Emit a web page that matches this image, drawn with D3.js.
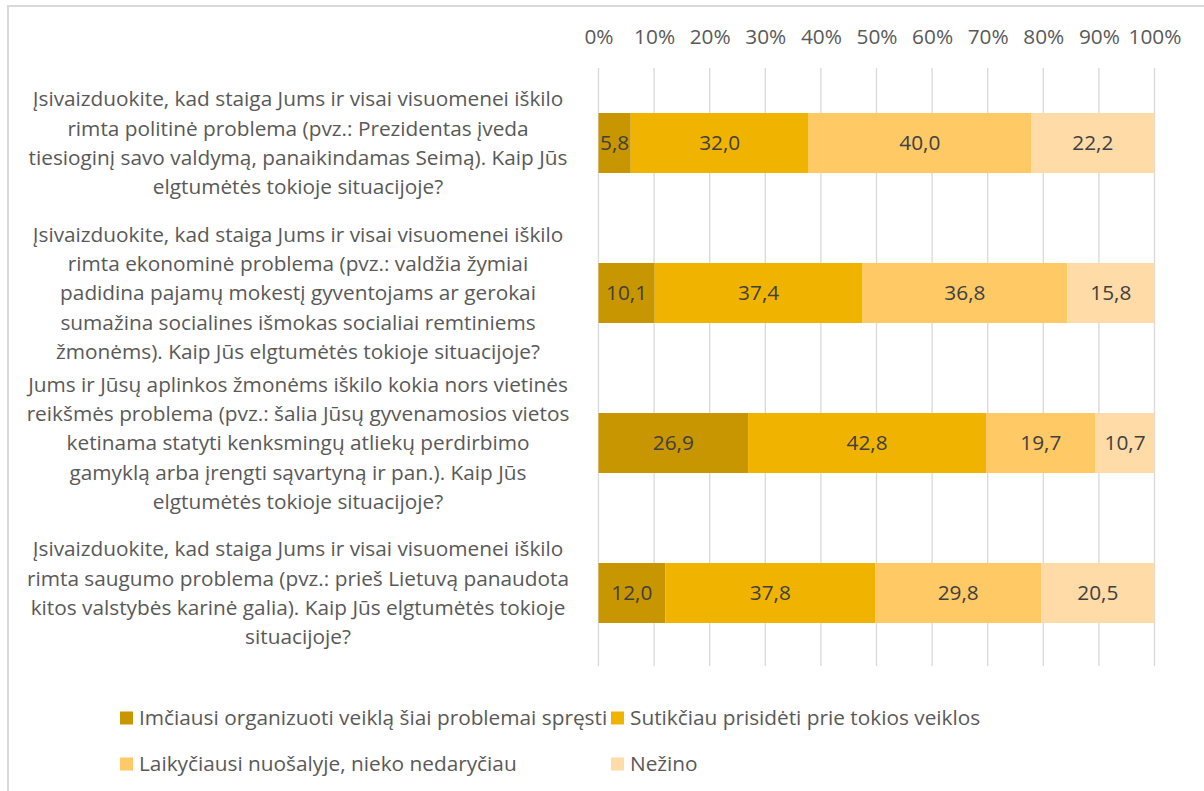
<!DOCTYPE html>
<html><head><meta charset="utf-8">
<script src="https://cdn.jsdelivr.net/npm/d3@7"></script>
<style>body{margin:0;background:#fff;} svg{display:block;}</style>
</head><body>
<script>
const categories = [
  ["Įsivaizduokite, kad staiga Jums ir visai visuomenei iškilo","rimta politinė problema (pvz.: Prezidentas įveda","tiesioginį savo valdymą, panaikindamas Seimą). Kaip Jūs","elgtumėtės tokioje situacijoje?"],
  ["Įsivaizduokite, kad staiga Jums ir visai visuomenei iškilo","rimta ekonominė problema (pvz.: valdžia žymiai","padidina pajamų mokestį gyventojams ar gerokai","sumažina socialines išmokas socialiai remtiniems","žmonėms). Kaip Jūs elgtumėtės tokioje situacijoje?"],
  ["Jums ir Jūsų aplinkos žmonėms iškilo kokia nors vietinės","reikšmės problema (pvz.: šalia Jūsų gyvenamosios vietos","ketinama statyti kenksmingų atliekų perdirbimo","gamyklą arba įrengti sąvartyną ir pan.). Kaip Jūs","elgtumėtės tokioje situacijoje?"],
  ["Įsivaizduokite, kad staiga Jums ir visai visuomenei iškilo","rimta saugumo problema (pvz.: prieš Lietuvą panaudota","kitos valstybės karinė galia). Kaip Jūs elgtumėtės tokioje","situacijoje?"]
];
const seriesNames = ["Imčiausi organizuoti veiklą šiai problemai spręsti","Sutikčiau prisidėti prie tokios veiklos","Laikyčiausi nuošalyje, nieko nedaryčiau","Nežino"];
const imciausi = [5.8, 10.1, 26.9, 12.0];
const sutikciau = [32.0, 37.4, 42.8, 37.8];
const laikyciausi = [40.0, 36.8, 19.7, 29.8];
const nezino = [22.2, 15.8, 10.7, 20.5];
const tickValues = [0,10,20,30,40,50,60,70,80,90,100];
const colors = ["#C89600","#F0B400","#FFC966","#FFDBA8"];

const W=1204,H=791;
const svg=d3.select("body").append("svg").attr("width",W).attr("height",H);
const font="'Open Sans', sans-serif";
const fs=20.8;
svg.append("rect").attr("x",0).attr("y",0).attr("width",W).attr("height",H).attr("fill","#fff");
// border
svg.append("path").attr("d",`M8,791 V6 H1204`).attr("fill","none").attr("stroke","#d9d9d9").attr("stroke-width",2);

const x=d3.scaleLinear().domain([0,100]).range([598.5,1154.5]);
const y=d3.scaleBand().domain(d3.range(categories.length)).range([68,668]).paddingInner(0.6).paddingOuter(0.3);

// gridlines
svg.append("g").selectAll("line").data(tickValues).join("line")
  .attr("x1",d=>x(d)).attr("x2",d=>x(d)).attr("y1",68).attr("y2",666)
  .attr("stroke","#d9d9d9").attr("stroke-width",1.3);

// top axis labels
const ax=svg.append("g").attr("transform","translate(0,37)").call(d3.axisTop(x).tickValues(tickValues).tickFormat(d=>d+"%").tickSize(0).tickPadding(0));
ax.select(".domain").remove();
ax.selectAll("text").attr("font-family",font).attr("font-size",fs).attr("fill","#595959").attr("dy","0.35em");

const rows=categories.map((c,i)=>({i,vals:[imciausi[i],sutikciau[i],laikyciausi[i],nezino[i]]}));
const keys=[0,1,2,3];
const stack=d3.stack().keys(keys).value((d,k)=>d.vals[k]);
const stacked=stack(rows);

const g=svg.append("g");
stacked.forEach((s,k)=>{
  const sg=g.append("g");
  sg.selectAll("rect").data(s).join("rect")
    .attr("x",d=>x(d[0])).attr("width",d=>x(Math.min(d[1],100))-x(d[0]))
    .attr("y",(d,i)=>y(i)).attr("height",y.bandwidth())
    .attr("fill",colors[k]);
  sg.selectAll("text").data(s).join("text")
    .attr("x",d=>(x(d[0])+x(Math.min(d[1],100)))/2).attr("y",(d,i)=>y(i)+y.bandwidth()/2)
    .attr("dy","0.35em").attr("text-anchor","middle")
    .attr("font-family",font).attr("font-size",fs).attr("fill","#404040")
    .text(d=>d3.format(".1f")(d[1]-d[0]).replace(".",","));
});

// category labels
const lh=29.3;
categories.forEach((lines,i)=>{
  const cy=y(i)+y.bandwidth()/2;
  const t=svg.append("text").attr("font-family",font).attr("font-size",fs).attr("fill","#595959").attr("text-anchor","middle");
  lines.forEach((ln,j)=>{
    t.append("tspan").attr("x",298).attr("y",cy+(j-(lines.length-1)/2)*lh).attr("dy","0.35em").text(ln);
  });
});

// legend
const legPos=[[120,718],[611,718],[120,764],[611,764]];
seriesNames.forEach((n,k)=>{
  const [lx,ly]=legPos[k];
  svg.append("rect").attr("x",lx).attr("y",ly-6.5).attr("width",13).attr("height",13).attr("fill",colors[k]);
  svg.append("text").attr("x",lx+19).attr("y",ly).attr("dy","0.35em").attr("font-family",font).attr("font-size",fs).attr("fill","#595959").text(n);
});
</script>
</body></html>
